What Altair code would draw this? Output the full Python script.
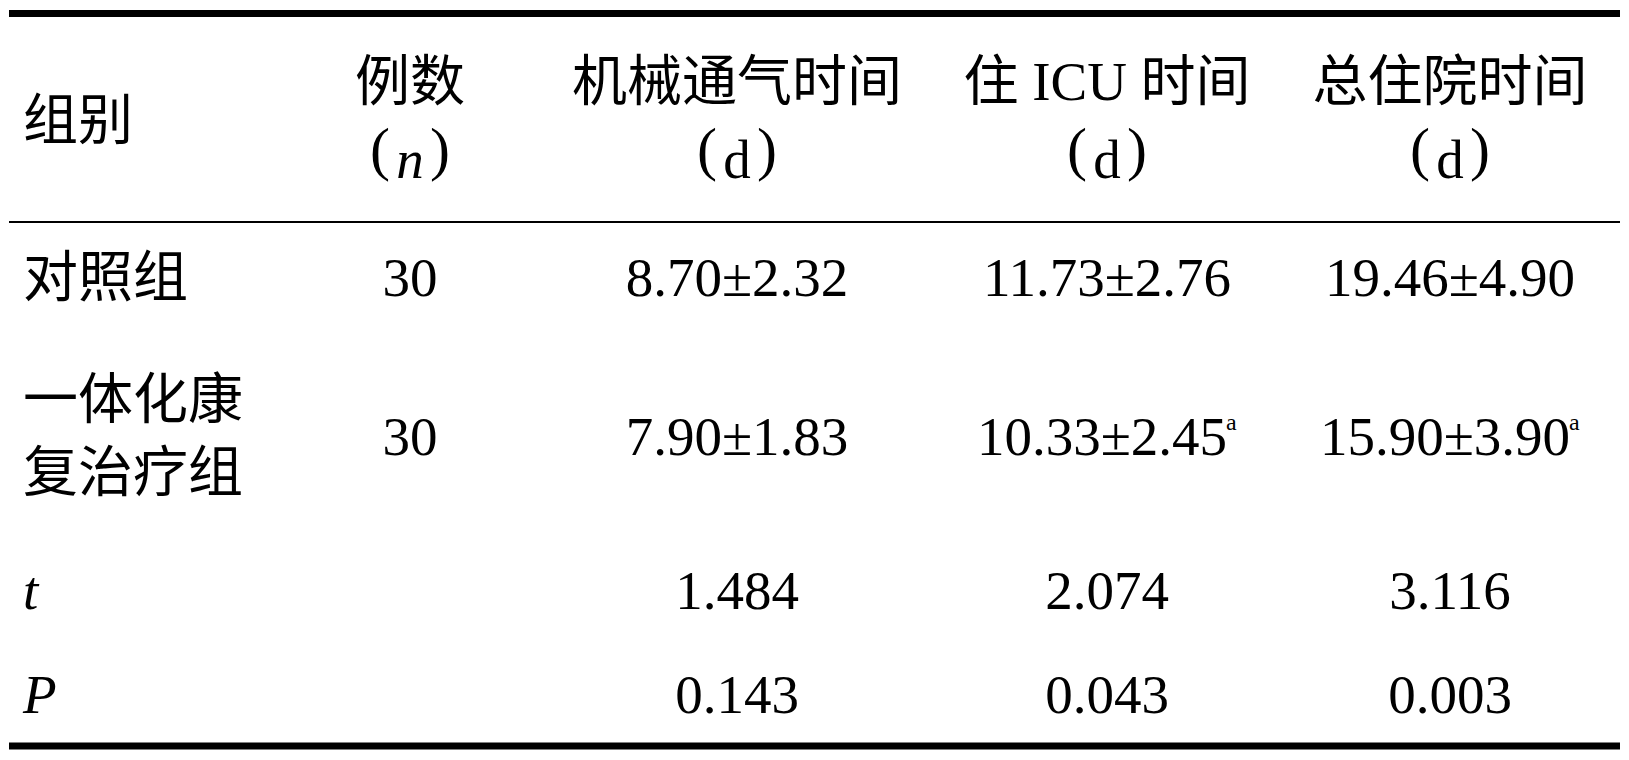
import altair as alt
import pandas as pd

# ---------------- data (table content) ----------------
header_group = "组别"
header_n = ["例数", "n"]
header_cols = ["机械通气时间", "住 ICU 时间", "总住院时间"]
header_unit = "d"
groups = [["对照组"], ["一体化康", "复治疗组"]]
n_cases = ["30", "30"]
mv_time = ["8.70±2.32", "7.90±1.83"]
icu_time = ["11.73±2.76", "10.33±2.45"]
total_time = ["19.46±4.90", "15.90±3.90"]
icu_mark = ["", "a"]
total_mark = ["", "a"]
stat_labels = ["t", "P"]
t_values = ["1.484", "2.074", "3.116"]
p_values = ["0.143", "0.043", "0.003"]

# ---------------- layout (pixel grid of the table) ----------------
W, H = 1613, 744
X0, Y0 = 8, 8
LEFT_X = 23
COL_X = [410, 737, 1107, 1450]
HEAD_Y = [83, 161]
HEAD_MID = 122
ROW_Y = [279, 438]
ROW_LINES = [[279], [401, 474]]
STAT_Y = [592, 696]
PAREN_DX = (-30, 30)
PAREN_BASE = 8      # paren baseline relative to second header line centre
SUP_SHIFT = 124     # half width of "xx.xx±x.xx" plus a small gap
SUP_BASE = -8       # superscript baseline relative to row centre
FS = 55
SERIF = "Liberation Serif, Times New Roman, Noto Sans CJK SC"

xs = alt.Scale(domain=[X0, X0 + W], range=[0, W])
ys = alt.Scale(domain=[Y0, Y0 + H], range=[0, H])

center, left, ital_c, ital_l, parens, sup = [], [], [], [], [], []


def add_parens(cx):
    parens.append(("(", cx + PAREN_DX[0], HEAD_Y[1] + PAREN_BASE))
    parens.append((")", cx + PAREN_DX[1], HEAD_Y[1] + PAREN_BASE))


# header
left.append((header_group, LEFT_X, HEAD_MID))
center.append((header_n[0], COL_X[0], HEAD_Y[0]))
ital_c.append((header_n[1], COL_X[0], HEAD_Y[1]))
add_parens(COL_X[0])
for i, h in enumerate(header_cols):
    center.append((h, COL_X[i + 1], HEAD_Y[0]))
    center.append((header_unit, COL_X[i + 1], HEAD_Y[1]))
    add_parens(COL_X[i + 1])

# group rows
for r in range(2):
    for line, yy in zip(groups[r], ROW_LINES[r]):
        left.append((line, LEFT_X, yy))
    center.append((n_cases[r], COL_X[0], ROW_Y[r]))
    center.append((mv_time[r], COL_X[1], ROW_Y[r]))
    for col, vals, marks in ((2, icu_time, icu_mark), (3, total_time, total_mark)):
        shift = 5 if marks[r] else 0
        center.append((vals[r], COL_X[col] - shift, ROW_Y[r]))
        if marks[r]:
            sup.append((marks[r], COL_X[col] - shift + SUP_SHIFT, ROW_Y[r] + SUP_BASE))

# statistics rows
for k, vals in enumerate((t_values, p_values)):
    ital_l.append((stat_labels[k], LEFT_X, STAT_Y[k]))
    for i, v in enumerate(vals):
        center.append((v, COL_X[i + 1], STAT_Y[k]))


def df(items):
    return pd.DataFrame(items, columns=["text", "x", "y"])


def text_layer(items, align, font, size=FS, style="normal", baseline="middle"):
    return alt.Chart(df(items)).mark_text(
        align=align, baseline=baseline, font=font, fontSize=size,
        fontStyle=style, color="#000000"
    ).encode(
        x=alt.X("x:Q", scale=xs, axis=None),
        y=alt.Y("y:Q", scale=ys, axis=None),
        text="text:N",
    )


rules = [
    (X0 + 1, 1620, 13.5, 7),
    (X0 + 1, 1620, 222, 2),
    (X0 + 1, 1620, 746, 7),
]
rule_layers = [
    alt.Chart(pd.DataFrame({"x": [a], "x2": [b], "y": [c]})).mark_rule(
        strokeWidth=w, color="#000000"
    ).encode(
        x=alt.X("x:Q", scale=xs, axis=None),
        x2="x2:Q",
        y=alt.Y("y:Q", scale=ys, axis=None),
    )
    for a, b, c, w in rules
]

chart = alt.layer(
    *rule_layers,
    text_layer(center, "center", SERIF),
    text_layer(left, "left", SERIF),
    text_layer(ital_l, "left", SERIF, style="italic"),
    text_layer(ital_c, "center", SERIF, style="italic"),
    text_layer(parens, "center", SERIF, size=60, baseline="alphabetic"),
    text_layer(sup, "left", SERIF, size=24, baseline="alphabetic"),
).properties(
    width=W, height=H, padding=0, autosize=alt.AutoSizeParams(type="none"),
    background="#ffffff",
).configure_view(stroke=None)

chart.save("out.html", embed_options={"renderer": "svg", "actions": False})
